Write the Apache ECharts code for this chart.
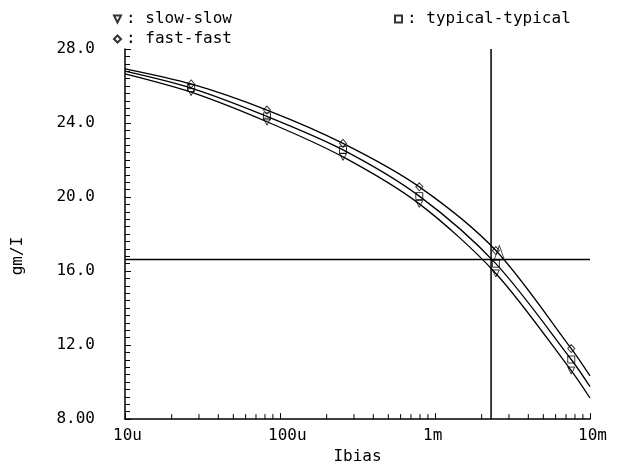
<!DOCTYPE html>
<html><head><meta charset="utf-8">
<script src="https://cdn.jsdelivr.net/npm/echarts@6/dist/echarts.min.js"></script>
<style>html,body{margin:0;padding:0;background:#fff}#c{width:624px;height:470px}</style>
</head><body><div id="c"></div>
<script>
// Ibias values (A) where the curves are read
const ibias = [1e-5, 2.67e-5, 8.24e-5, 2.55e-4, 7.92e-4, 2.47e-3, 7.57e-3, 1e-2];
const fastFast = [26.93, 26.11, 24.70, 22.90, 20.55, 17.11, 11.81, 10.34];
const typicalTypical = [26.80, 25.89, 24.36, 22.55, 20.05, 16.40, 11.22, 9.76];
const slowSlow = [26.66, 25.67, 24.07, 22.17, 19.63, 15.87, 10.62, 9.14];
// indices of points carrying markers
const markerIdx = [1, 2, 3, 4, 5, 6];
// cursor
const cursorX = 2.3e-3;
const cursorY = 16.63;
const cursorMarker = [2.6e-3, 17.0];
// axis
const xRange = [1e-5, 1e-2];
const yRange = [8, 28];
const xTickLabels = {1e-5: '10u', 1e-4: '100u', 1e-3: '1m', 1e-2: '10m'};
const yTickLabels = {8: '8.00', 12: '12.0', 16: '16.0', 20: '20.0', 24: '24.0', 28: '28.0'};
const xMinorTicks = [2e-5,3e-5,4e-5,5e-5,6e-5,7e-5,8e-5,9e-5,2e-4,3e-4,4e-4,5e-4,6e-4,7e-4,8e-4,9e-4,2e-3,3e-3,4e-3,5e-3,6e-3,7e-3,8e-3,9e-3];

const FONT = 'DejaVu Sans Mono';
const FS = 16;
const BLACK = '#000';
const triDown = 'path://M0,0L10,0L5,10Z';
const pts = arr => ibias.map((x, i) => [x, arr[i]]);
const mks = arr => markerIdx.map(i => [ibias[i], arr[i]]);

const lineS = (arr) => ({
  type: 'line', data: pts(arr), smooth: 0.3, showSymbol: false, silent: true,
  lineStyle: {color: BLACK, width: 1.3}, z: 3
});
const markS = (name, arr, symbol, size) => ({
  type: 'scatter', name, data: mks(arr), symbol, symbolSize: size, silent: true,
  itemStyle: {color: 'rgba(0,0,0,0)', borderColor: BLACK, borderWidth: 1}, z: 4
});
const cursorS = (data) => ({
  type: 'line', data, showSymbol: false, silent: true,
  lineStyle: {color: BLACK, width: 1.5}, z: 2
});

const chart = echarts.init(document.getElementById('c'));
chart.setOption({
  animation: false,
  backgroundColor: '#fff',
  textStyle: {fontFamily: FONT},
  grid: {left: 125, right: 34, top: 49, bottom: 47},
  legend: [
    {left: 108, top: 6, orient: 'vertical', itemGap: 4, itemWidth: 7, itemHeight: 7,
     data: ['slow-slow', 'fast-fast'], formatter: ': {name}', selectedMode: false,
     textStyle: {fontFamily: FONT, fontSize: FS, color: BLACK}},
    {left: 389, top: 6, itemWidth: 7, itemHeight: 7,
     data: ['typical-typical'], formatter: ': {name}', selectedMode: false,
     textStyle: {fontFamily: FONT, fontSize: FS, color: BLACK}}
  ],
  xAxis: {
    type: 'log', logBase: 10, min: xRange[0], max: xRange[1],
    name: 'Ibias', nameLocation: 'middle', nameGap: 28,
    nameTextStyle: {fontFamily: FONT, fontSize: FS, color: BLACK},
    axisLine: {lineStyle: {color: BLACK, width: 1.5}},
    axisTick: {inside: true, length: 6, lineStyle: {color: BLACK}},
    splitLine: {show: false},
    axisLabel: {color: BLACK, fontFamily: FONT, fontSize: FS, margin: 9, align: 'left', padding: [0, 0, 0, -12],
      formatter: v => xTickLabels[v] || ''}
  },
  yAxis: {
    type: 'value', min: yRange[0], max: yRange[1], interval: 4,
    axisLine: {show: true, lineStyle: {color: BLACK, width: 1.5}},
    axisTick: {show: true, inside: true, length: 6, lineStyle: {color: BLACK}},
    minorTick: {show: true, splitNumber: 10, length: 5, lineStyle: {color: BLACK}},
    splitLine: {show: false},
    axisLabel: {color: BLACK, fontFamily: FONT, fontSize: FS, margin: 30,
      formatter: v => yTickLabels[v] || ''}
  },
  graphic: [{type: 'text', rotation: Math.PI / 2, x: 18, y: 256,
    style: {text: 'gm/I', font: FS + 'px "' + FONT + '"', fill: BLACK, align: 'center', verticalAlign: 'middle'}}],
  series: [
    cursorS([[cursorX, yRange[0]], [cursorX, yRange[1]]]),
    cursorS([[xRange[0], cursorY], [xRange[1], cursorY]]),
    lineS(fastFast),
    lineS(typicalTypical),
    lineS(slowSlow),
    markS('slow-slow', slowSlow, triDown, [7, 7]),
    markS('typical-typical', typicalTypical, 'rect', [7, 7]),
    markS('fast-fast', fastFast, 'diamond', [7, 8]),
    {type: 'scatter', data: [cursorMarker], symbol: 'triangle', symbolSize: [10, 14], silent: true,
     itemStyle: {color: 'rgba(0,0,0,0)', borderColor: BLACK, borderWidth: 1}, z: 5},
    {type: 'custom', silent: true, data: xMinorTicks.map(v => [v, yRange[0]]),
     renderItem: (params, api) => {
       const p = api.coord([api.value(0), api.value(1)]);
       return {type: 'line', shape: {x1: p[0], y1: p[1], x2: p[0], y2: p[1] - 5},
         style: {stroke: BLACK, lineWidth: 1}};
     }, z: 6}
  ]
});
</script></body></html>
